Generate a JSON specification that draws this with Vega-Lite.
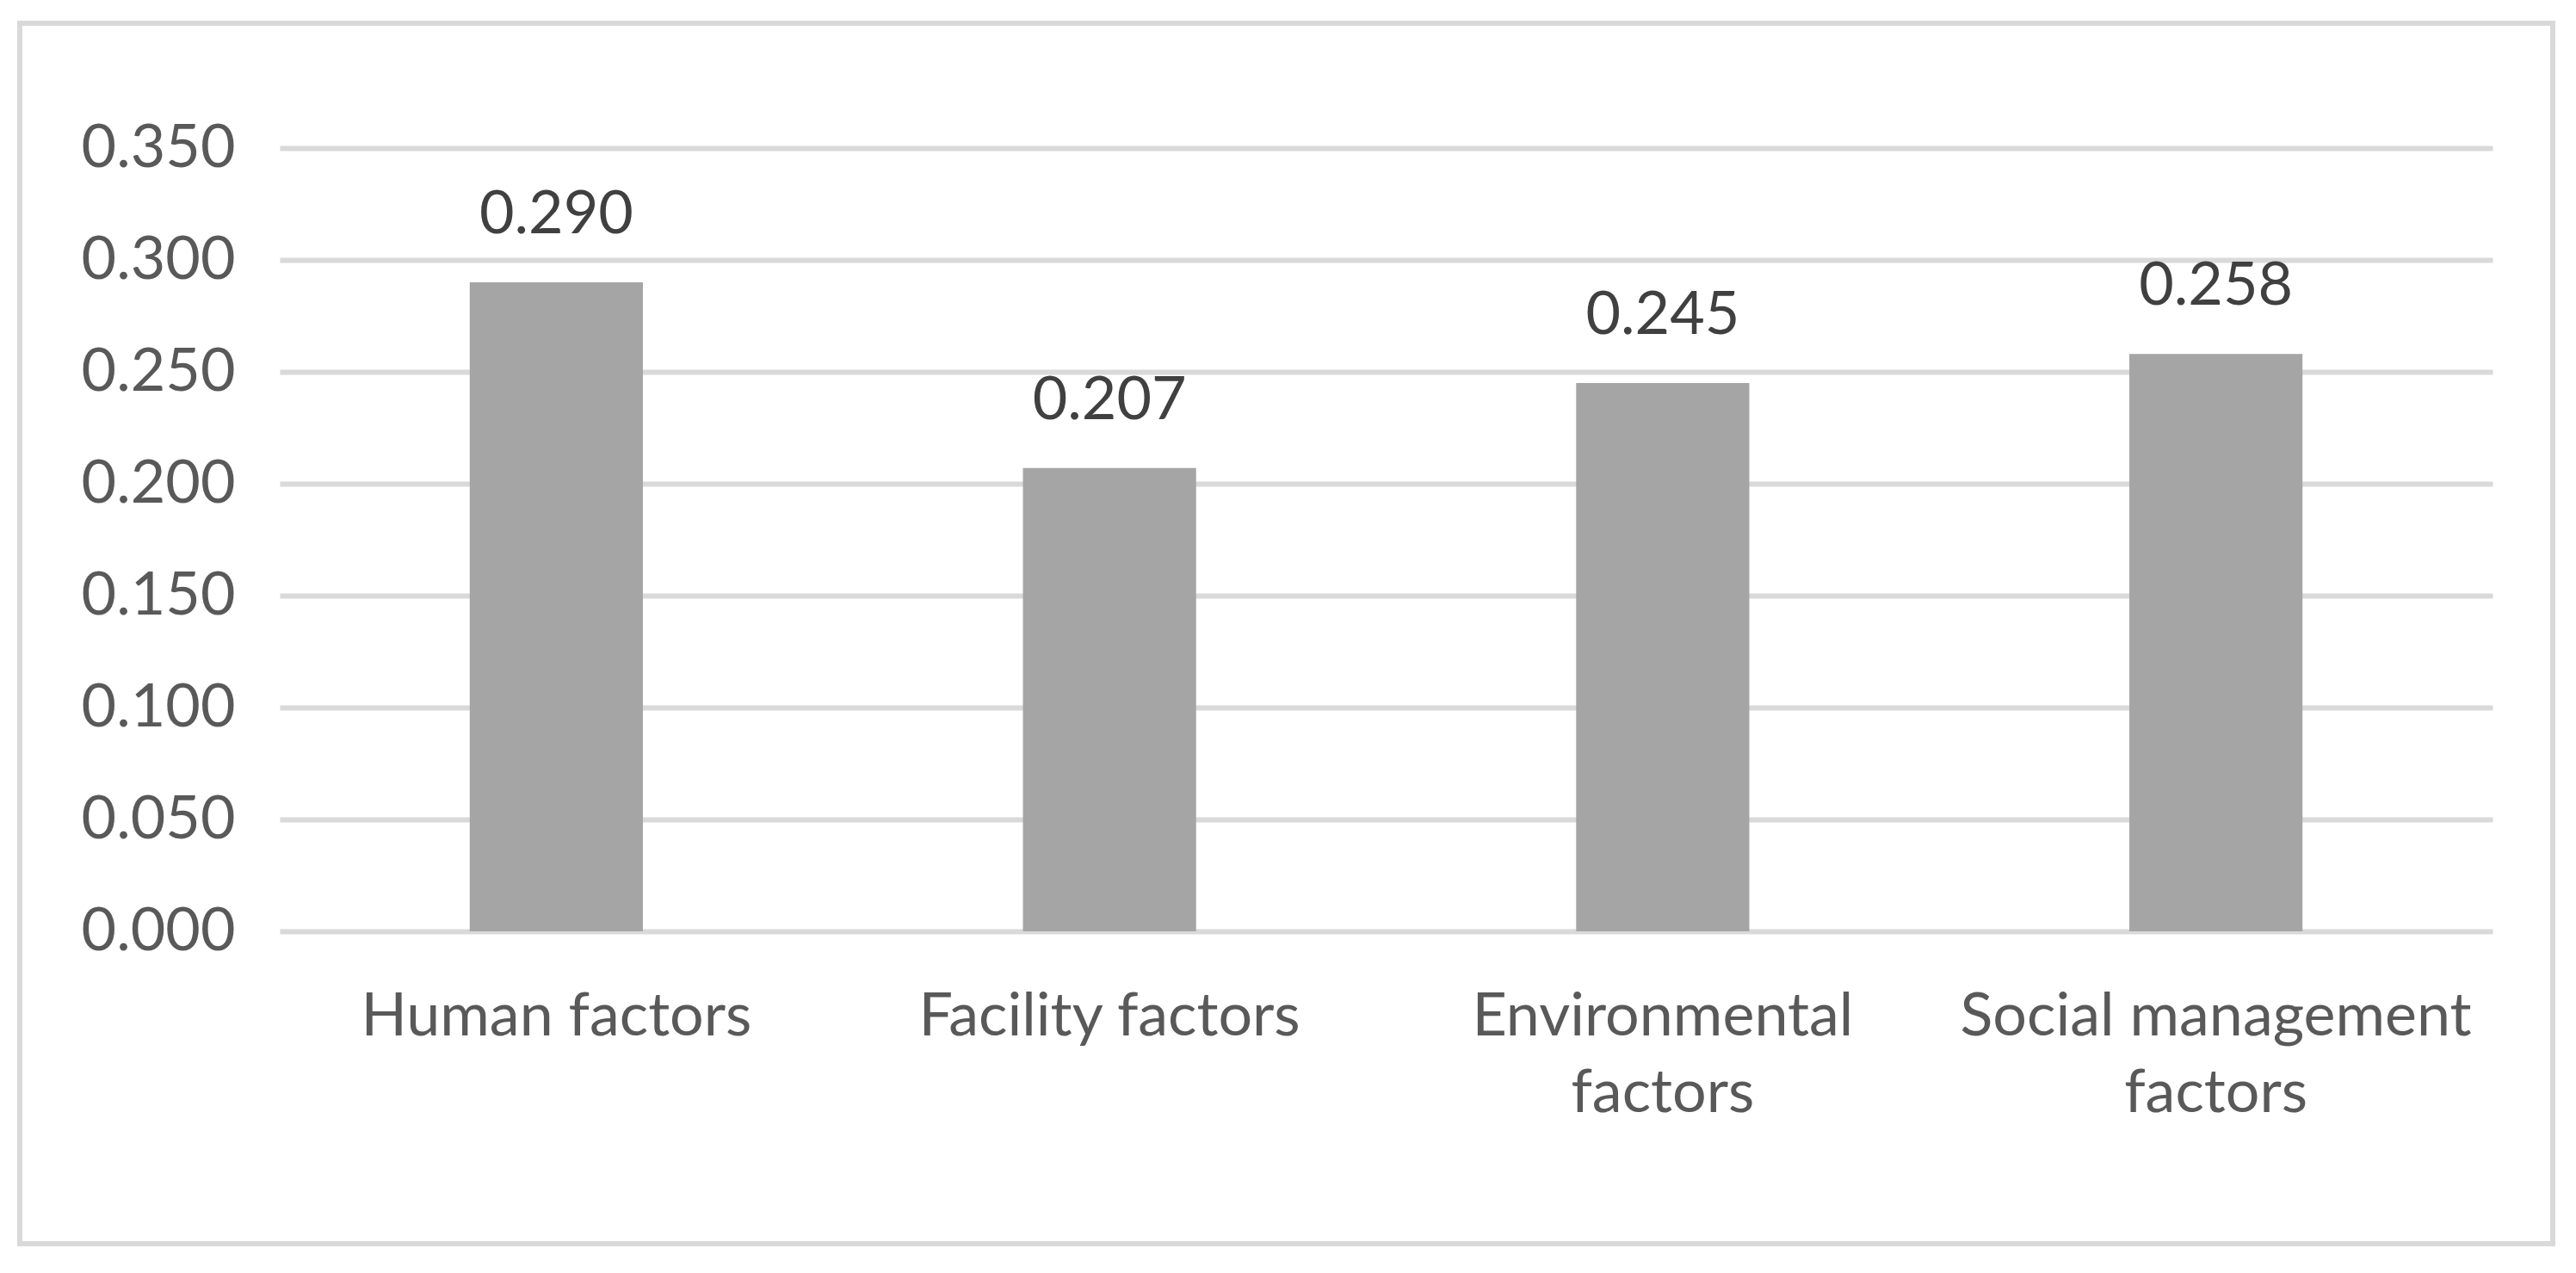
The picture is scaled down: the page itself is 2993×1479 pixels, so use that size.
{
  "$schema": "https://vega.github.io/schema/vega-lite/v6.json",
  "width": 2943,
  "height": 1418,
  "autosize": {"type": "none"},
  "padding": {"left": 23, "top": 27, "right": 27, "bottom": 34},
  "background": "white",
  "config": {"view": {"stroke": "#d9d9d9", "strokeWidth": 6}, "font": "Lato"},
  "data": {"values": [
    {"factor": "Human factors", "value": 0.290},
    {"factor": "Facility factors", "value": 0.207},
    {"factor": "Environmental factors", "value": 0.245},
    {"factor": "Social management factors", "value": 0.258}
  ]},
  "encoding": {
    "x": {
      "field": "factor", "type": "nominal", "sort": null,
      "scale": {"range": [302, 2873], "paddingInner": 0.687, "paddingOuter": 0.3435},
      "axis": {
        "orient": "bottom", "offset": -363, "title": null, "ticks": false, "domain": false,
        "labelAngle": 0, "labelFontSize": 70, "labelColor": "#595959", "labelFont": "Lato",
        "labelPadding": 120, "labelBaseline": "alphabetic", "labelLineHeight": 89, "labelLimit": 0,
        "labelExpr": "datum.value == 'Environmental factors' ? ['Environmental', 'factors'] : datum.value == 'Social management factors' ? ['Social management', 'factors'] : datum.value"
      }
    },
    "y": {
      "field": "value", "type": "quantitative",
      "scale": {"domain": [0, 0.35], "range": [1055, 145], "nice": false},
      "axis": {
        "orient": "left", "offset": -262, "title": null, "ticks": false, "domain": false,
        "values": [0, 0.05, 0.1, 0.15, 0.2, 0.25, 0.3, 0.35], "format": ".3f",
        "grid": true, "gridColor": "#d9d9d9", "gridWidth": 6,
        "labelFontSize": 70, "labelColor": "#595959", "labelFont": "Lato", "labelPadding": 12
      }
    }
  },
  "layer": [
    {"mark": {"type": "bar", "color": "#a5a5a5"}},
    {"mark": {"type": "text", "dy": -57, "baseline": "alphabetic", "fontSize": 70, "color": "#404040", "font": "Lato"},
     "encoding": {"text": {"field": "value", "type": "quantitative", "format": ".3f"}}}
  ]
}
